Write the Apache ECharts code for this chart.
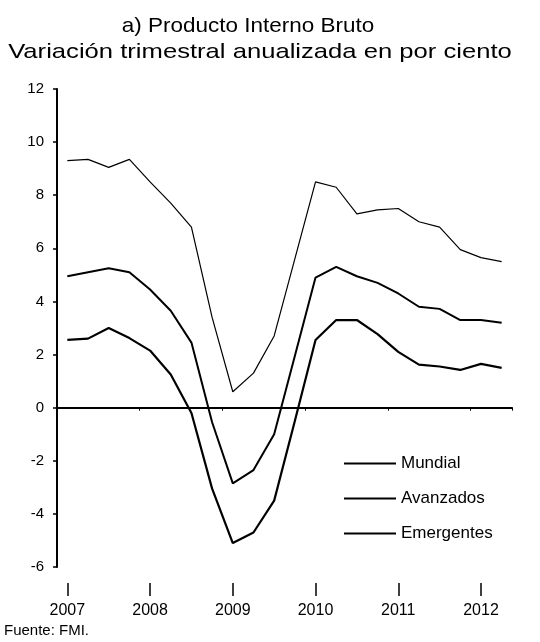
<!DOCTYPE html>
<html>
<head>
<meta charset="utf-8">
<script src="https://cdn.jsdelivr.net/npm/echarts@6/dist/echarts.min.js"></script>
<style>
html,body{margin:0;padding:0;background:#fff;}
#c{width:540px;height:642px;}
</style>
</head>
<body>
<div id="c"></div>
<script>
// Quarterly categories 2007Q1 .. 2012Q2
const quarters = ["2007T1","2007T2","2007T3","2007T4","2008T1","2008T2","2008T3","2008T4",
  "2009T1","2009T2","2009T3","2009T4","2010T1","2010T2","2010T3","2010T4",
  "2011T1","2011T2","2011T3","2011T4","2012T1","2012T2"];
const yearLabels = ["2007","2008","2009","2010","2011","2012"];
const mundial = [4.95, 5.1, 5.25, 5.1, 4.45, 3.65, 2.45, -0.55, -2.85, -2.35, -1.0, 1.95,
  4.9, 5.3, 4.95, 4.7, 4.3, 3.8, 3.72, 3.3, 3.3, 3.2];
const avanzados = [2.55, 2.6, 3.0, 2.62, 2.15, 1.25, -0.2, -3.05, -5.1, -4.7, -3.5, -0.5,
  2.55, 3.3, 3.3, 2.77, 2.1, 1.62, 1.55, 1.42, 1.65, 1.5];
const emergentes = [9.3, 9.35, 9.05, 9.35, 8.5, 7.7, 6.8, 3.4, 0.6, 1.3, 2.7, 5.6,
  8.5, 8.3, 7.3, 7.45, 7.5, 7.0, 6.8, 5.95, 5.65, 5.5];
const seriesNames = ["Mundial","Avanzados","Emergentes"];
const titleLines = ["a) Producto Interno Bruto", "Variación trimestral anualizada en por ciento"];

const FONT = "Liberation Sans";
const chart = echarts.init(document.getElementById('c'), null, {renderer:'canvas'});
const yearOf = (i) => yearLabels[Math.floor(i/4)];

chart.setOption({
  animation:false,
  backgroundColor:'#fff',
  grid:{left:57,right:28,top:89,bottom:75},
  legend:{
    orient:'vertical', left:338, top:450, itemWidth:52, itemHeight:14, itemGap:18,
    data:seriesNames,
    itemStyle:{opacity:0},
    textStyle:{fontFamily:FONT,fontSize:17,color:'#000'}
  },
  xAxis:[{
    type:'category', data:quarters, boundaryGap:true,
    axisLine:{onZero:true,lineStyle:{color:'#000',width:2}},
    axisTick:{show:true,interval:3,length:3,lineStyle:{color:'#000',width:1}},
    axisLabel:{show:false}, splitLine:{show:false}
  },{
    type:'category', data:quarters, boundaryGap:true, position:'bottom', offset:16,
    axisLine:{show:false,onZero:false},
    axisTick:{show:true,alignWithLabel:true,interval:(i)=>i%4===0,length:13,lineStyle:{color:'#000',width:1.5}},
    axisLabel:{interval:(i)=>i%4===0, formatter:(v,i)=>yearOf(i), margin:20,
      fontFamily:FONT,fontSize:16,color:'#000'},
    splitLine:{show:false}
  }],
  yAxis:{
    type:'value', min:-6, max:12, interval:2,
    axisLine:{show:true,lineStyle:{color:'#000',width:2}},
    axisTick:{show:true,length:4,lineStyle:{color:'#000',width:1.5}},
    axisLabel:{margin:13,fontFamily:FONT,fontSize:15,color:'#000'},
    splitLine:{show:false}
  },
  graphic:[{
    type:'text', x:248, y:26, scaleX:1.07,
    style:{text:titleLines[0],fontFamily:FONT,fontSize:21,fill:'#000',align:'center',verticalAlign:'middle'}
  },{
    type:'text', x:260, y:52, scaleX:1.22,
    style:{text:titleLines[1],fontFamily:FONT,fontSize:21,fill:'#000',align:'center',verticalAlign:'middle'}
  },{
    type:'text', left:4, top:623,
    style:{text:'Fuente: FMI.',fontFamily:FONT,fontSize:15,fill:'#000'}
  }],
  series:[
    {name:'Mundial',type:'line',data:mundial,symbol:'none',xAxisIndex:0,
      lineStyle:{color:'#000',width:2}, itemStyle:{color:'#000'}},
    {name:'Avanzados',type:'line',data:avanzados,symbol:'none',xAxisIndex:0,
      lineStyle:{color:'#000',width:2.2}, itemStyle:{color:'#000'}},
    {name:'Emergentes',type:'line',data:emergentes,symbol:'none',xAxisIndex:0,
      lineStyle:{color:'#000',width:1.2}, itemStyle:{color:'#000'}}
  ]
});
</script>
</body>
</html>
